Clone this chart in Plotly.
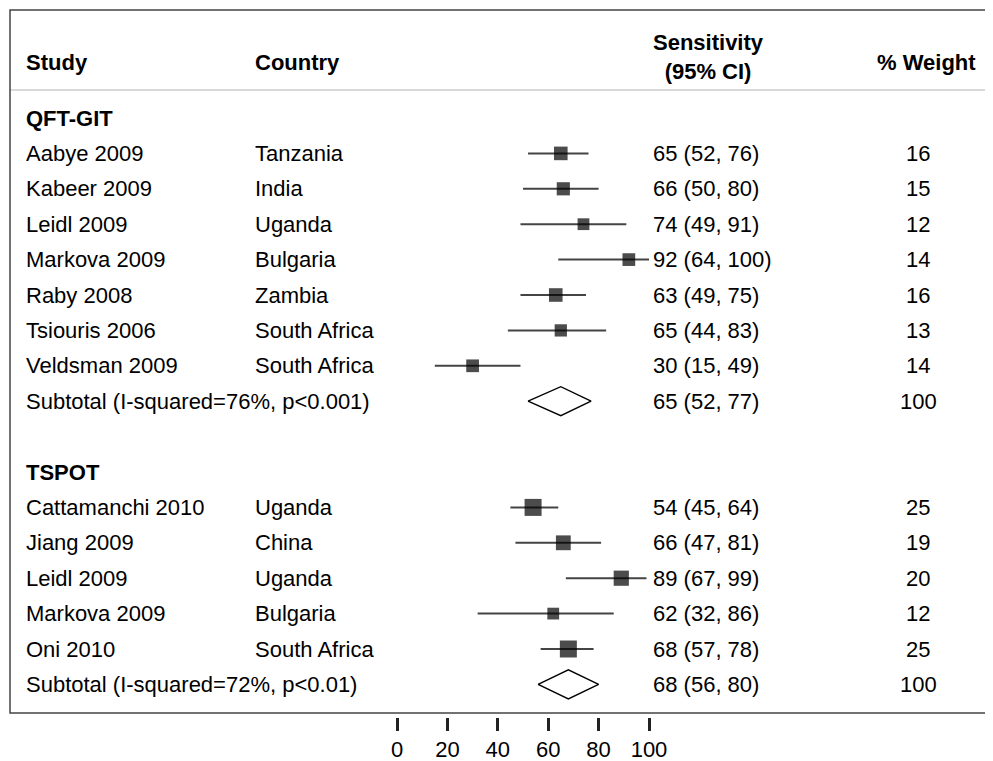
import plotly.graph_objects as go

# ---- data -------------------------------------------------------------
STUDIES = ["Aabye 2009", "Kabeer 2009", "Leidl 2009", "Markova 2009", "Raby 2008",
           "Tsiouris 2006", "Veldsman 2009",
           "Cattamanchi 2010", "Jiang 2009", "Leidl 2009", "Markova 2009", "Oni 2010"]
COUNTRIES = ["Tanzania", "India", "Uganda", "Bulgaria", "Zambia", "South Africa",
             "South Africa", "Uganda", "China", "Uganda", "Bulgaria", "South Africa"]
EST = [65, 66, 74, 92, 63, 65, 30, 54, 66, 89, 62, 68]
LO = [52, 50, 49, 64, 49, 44, 15, 45, 47, 67, 32, 57]
HI = [76, 80, 91, 100, 75, 83, 49, 64, 81, 99, 86, 78]
WEIGHT = [16, 15, 12, 14, 16, 13, 14, 25, 19, 20, 12, 25]
ROWS = [1, 2, 3, 4, 5, 6, 7, 11, 12, 13, 14, 15]

GROUPS = ["QFT-GIT", "TSPOT"]
GROUP_ROWS = [0, 10]
SUB_LABELS = ["Subtotal (I-squared=76%, p<0.001)", "Subtotal (I-squared=72%, p<0.01)"]
SUB_EST = [65, 68]
SUB_LO = [52, 56]
SUB_HI = [77, 80]
SUB_ROWS = [8, 16]

TICKS = [0, 20, 40, 60, 80, 100]

# ---- geometry helpers (page pixel -> data); page has an 8px body margin
W, H = 993, 761
OFF = 8
PX0, PXU = 397.0 - OFF, 2.52     # pixel of x=0, pixels per unit
RY0, RYU = 118.0 - OFF, 35.4     # pixel of row 0, pixels per row


def dx(px):
    return (px - OFF - PX0) / PXU


def dy(py):
    return (py - OFF - RY0) / RYU


def py_paper(py):
    return 1 - (py - OFF) / H


def px_paper(px):
    return (px - OFF) / W


FONT = "Liberation Sans, Arial, sans-serif"
FS = 22

fig = go.Figure()

for lo, hi, r in zip(LO, HI, ROWS):
    fig.add_trace(go.Scatter(x=[lo, hi], y=[r, r], mode="lines",
                             line=dict(color="#444", width=2),
                             showlegend=False, hoverinfo="skip"))

fig.add_trace(go.Scatter(
    x=EST, y=ROWS, mode="markers", showlegend=False,
    marker=dict(symbol="square", color="black", line=dict(width=0),
                size=[3.4 * w ** 0.5 for w in WEIGHT]),
))

for e, lo, hi, r in zip(SUB_EST, SUB_LO, SUB_HI, SUB_ROWS):
    fig.add_trace(go.Scatter(x=[lo, e, hi, e, lo], y=[r, r - 0.41, r, r + 0.41, r],
                             mode="lines", line=dict(color="black", width=1.4),
                             showlegend=False, hoverinfo="skip"))

ann = []


def txt(px, py, s, bold=False, anchor="left", row=True):
    ann.append(dict(x=dx(px), y=py if row else dy(py), xref="x", yref="y",
                    text=f"<b>{s}</b>" if bold else s,
                    showarrow=False, xanchor=anchor, yanchor="middle",
                    font=dict(family=FONT, size=FS, color="black")))


txt(24, 62, "Study", bold=True, row=False)
txt(253, 62, "Country", bold=True, row=False)
txt(651, 57, "Sensitivity<br>(95% CI)", bold=True, row=False)
txt(926, 62, "% Weight", bold=True, anchor="center", row=False)

for g, r in zip(GROUPS, GROUP_ROWS):
    txt(24, r, g, bold=True)
for s, c, e, lo, hi, w, r in zip(STUDIES, COUNTRIES, EST, LO, HI, WEIGHT, ROWS):
    txt(24, r, s)
    txt(253, r, c)
    txt(651, r, f"{e} ({lo}, {hi})")
    txt(918, r, str(w), anchor="center")
for s, e, lo, hi, r in zip(SUB_LABELS, SUB_EST, SUB_LO, SUB_HI, SUB_ROWS):
    txt(24, r, s)
    txt(651, r, f"{e} ({lo}, {hi})")
    txt(918, r, "100", anchor="center")

# header separator + frame
fig.add_shape(type="line", xref="paper", yref="paper", x0=px_paper(10), x1=1,
              y0=py_paper(90), y1=py_paper(90), line=dict(color="#ccc", width=1.5))
fig.add_shape(type="rect", xref="paper", yref="paper", x0=px_paper(10), x1=1.01,
              y0=py_paper(713), y1=py_paper(10), line=dict(color="#444", width=1.5))

fig.update_layout(
    width=W, height=H, margin=dict(l=0, r=0, t=0, b=0),
    plot_bgcolor="white", paper_bgcolor="white",
    annotations=ann,
    xaxis=dict(range=[dx(OFF), dx(W + OFF)], tickvals=TICKS, showgrid=False, zeroline=False,
               ticks="outside", ticklen=13, tickwidth=2.5, tickcolor="#222",
               anchor="free", position=py_paper(717), showline=False,
               tickfont=dict(family=FONT, size=22, color="black")),
    yaxis=dict(range=[dy(H + OFF), dy(OFF)], visible=False),
)

fig.write_html("out.html")
